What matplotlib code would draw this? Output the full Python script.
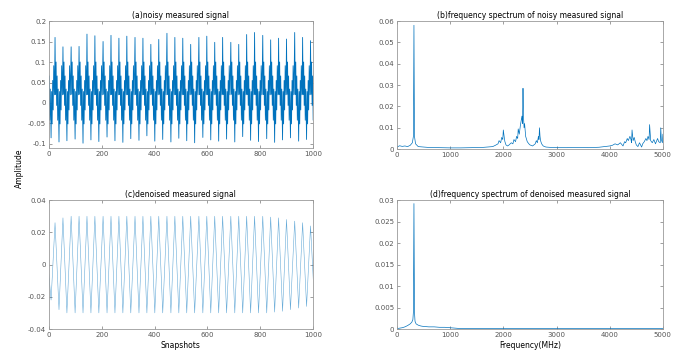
import matplotlib
matplotlib.use('Agg')
import matplotlib.pyplot as plt
import numpy as np

# snapshot index of each positive crest (one cycle ~30 snapshots) and the trough after it
peak_snap = [-7, 23, 53, 84, 114, 144, 174, 205, 235, 265, 295, 326, 356, 386, 416, 447, 477,
             507, 537, 568, 598, 628, 658, 689, 719, 749, 779, 810, 840, 870, 900, 931, 961, 991]
trough_snap = [8, 38, 68, 99, 129, 159, 189, 220, 250, 280, 310, 341, 371, 401, 431, 462, 492,
               522, 552, 583, 613, 643, 673, 704, 734, 764, 794, 825, 855, 885, 915, 946, 976, 1006]

# noisy signal: crest / trough height of every cycle
noisy_hi = [0.140, 0.160, 0.137, 0.137, 0.138, 0.168, 0.164, 0.150, 0.165, 0.158, 0.163, 0.160,
            0.158, 0.143, 0.155, 0.170, 0.160, 0.158, 0.143, 0.160, 0.163, 0.148, 0.160, 0.148,
            0.143, 0.167, 0.172, 0.165, 0.154, 0.158, 0.156, 0.172, 0.160, 0.152]
noisy_lo = [-0.085, -0.095, -0.092, -0.088, -0.098, -0.090, -0.094, -0.083, -0.092, -0.096,
            -0.087, -0.091, -0.080, -0.093, -0.089, -0.095, -0.086, -0.092, -0.097, -0.084,
            -0.090, -0.093, -0.088, -0.095, -0.082, -0.091, -0.094, -0.087, -0.096, -0.090,
            -0.085, -0.093, -0.089, -0.088]
# fast ripple riding on the carrier, between crest and trough (offset in snapshots, value)
ripple_off_a = [2, 4, 6, 8, 10, 12]
ripple_val_a = [0.021, 0.100, -0.006, 0.066, -0.042, 0.034]
ripple_off_b = [17, 19, 21, 23, 25, 28]
ripple_val_b = [0.028, -0.051, 0.055, -0.017, 0.091, 0.020]

# denoised signal: crest / trough height of every cycle
denoised_hi = [0.006, 0.026, 0.029, 0.030, 0.030, 0.030, 0.030, 0.030, 0.030, 0.030, 0.030,
               0.030, 0.030, 0.030, 0.030, 0.030, 0.030, 0.030, 0.030, 0.030, 0.030, 0.030,
               0.030, 0.030, 0.030, 0.030, 0.030, 0.030, 0.0295, 0.029, 0.028, 0.027, 0.026, 0.024]
denoised_lo = [-0.022, -0.028, -0.030, -0.030, -0.030, -0.030, -0.030, -0.030, -0.030, -0.030,
               -0.030, -0.030, -0.030, -0.030, -0.030, -0.030, -0.030, -0.030, -0.030, -0.030,
               -0.030, -0.030, -0.030, -0.030, -0.030, -0.030, -0.030, -0.030, -0.0295, -0.029,
               -0.028, -0.027, -0.026, -0.024]

# amplitude spectrum of the noisy signal
freq_noisy = [0, 20, 50, 100, 150, 200, 250, 290, 310, 320,
              330, 350, 400, 500, 600, 800, 1000, 1200, 1400, 1600,
              1700, 1800, 1850, 1900, 1920, 1950, 1970, 1990, 2000, 2020,
              2030, 2050, 2080, 2100, 2150, 2180, 2200, 2230, 2250, 2270,
              2280, 2300, 2320, 2340, 2350, 2360, 2365, 2370, 2380, 2390,
              2400, 2420, 2450, 2480, 2500, 2550, 2600, 2620, 2640, 2660,
              2670, 2680, 2690, 2700, 2720, 2750, 2800, 2900, 3000, 3200,
              3400, 3600, 3800, 3900, 4000, 4050, 4100, 4150, 4200, 4250,
              4280, 4300, 4330, 4350, 4380, 4400, 4410, 4420, 4440, 4460,
              4480, 4500, 4530, 4560, 4600, 4620, 4650, 4680, 4700, 4720,
              4740, 4750, 4770, 4800, 4830, 4860, 4900, 4920, 4950, 4960,
              4970, 4990, 5000]
amp_noisy = [0.0015, 0.0012, 0.0016, 0.0013, 0.0015, 0.0012, 0.0018, 0.0030, 0.0060, 0.0580,
             0.0060, 0.0025, 0.0012, 0.0010, 0.0008, 0.0007, 0.0006, 0.0006, 0.0007, 0.0008,
             0.0010, 0.0012, 0.0018, 0.0025, 0.0040, 0.0030, 0.0055, 0.0045, 0.0090, 0.0050,
             0.0035, 0.0020, 0.0015, 0.0018, 0.0030, 0.0025, 0.0045, 0.0035, 0.0060, 0.0050,
             0.0095, 0.0070, 0.0110, 0.0140, 0.0155, 0.0120, 0.0200, 0.0285, 0.0150, 0.0100,
             0.0120, 0.0060, 0.0035, 0.0025, 0.0020, 0.0015, 0.0025, 0.0040, 0.0030, 0.0060,
             0.0045, 0.0100, 0.0060, 0.0040, 0.0025, 0.0015, 0.0010, 0.0008, 0.0007, 0.0007,
             0.0008, 0.0007, 0.0009, 0.0012, 0.0015, 0.0018, 0.0025, 0.0020, 0.0030, 0.0015,
             0.0035, 0.0030, 0.0050, 0.0040, 0.0060, 0.0045, 0.0030, 0.0090, 0.0040, 0.0055,
             0.0035, 0.0020, 0.0012, 0.0030, 0.0010, 0.0025, 0.0035, 0.0050, 0.0040, 0.0060,
             0.0045, 0.0115, 0.0040, 0.0030, 0.0045, 0.0025, 0.0050, 0.0035, 0.0030, 0.0100,
             0.0045, 0.0030, 0.0070]

# amplitude spectrum of the denoised signal
freq_denoised = [0, 50, 100, 150, 200, 250, 280, 300, 310, 320,
                 330, 340, 360, 400, 450, 500, 600, 700, 800, 900,
                 1000, 1100, 1200, 1500, 2000, 2500, 3000, 3500, 4000, 4500,
                 5000]
amp_denoised = [0.0001, 0.0002, 0.0003, 0.0005, 0.0008, 0.0012, 0.0016, 0.0022, 0.0040, 0.0292,
                0.0040, 0.0018, 0.0012, 0.0009, 0.0007, 0.0006, 0.0005, 0.0005, 0.0004, 0.0004,
                0.0003, 0.0002, 0.0001, 0.0001, 0.0001, 0.0001, 0.0001, 0.0001, 0.0001, 0.0001,
                0.0001]

LINE = '#0072BD'
EDGE = '#9a9a9a'
FS = 5


def build_noisy():
    xs, ys = [], []
    for k in range(len(peak_snap)):
        p = peak_snap[k]
        xs.append(p); ys.append(noisy_hi[k])
        xs += [p + o for o in ripple_off_a]; ys += ripple_val_a
        xs.append(trough_snap[k]); ys.append(noisy_lo[k])
        xs += [p + o for o in ripple_off_b]; ys += ripple_val_b
    return np.array(xs), np.array(ys)


def build_denoised():
    xs, ys = [], []
    for k in range(len(peak_snap)):
        xs += [peak_snap[k], trough_snap[k]]
        ys += [denoised_hi[k], denoised_lo[k]]
    return np.array(xs), np.array(ys)


def style(ax):
    ax.tick_params(direction='in', top=True, right=True, length=2, width=0.4,
                   labelsize=FS, colors='#555555', pad=2)
    for s in ax.spines.values():
        s.set_color(EDGE)
        s.set_linewidth(0.6)


fig = plt.figure(figsize=(6.82, 3.56), dpi=100)
ax_a = fig.add_axes([0.0718, 0.584, 0.387, 0.357])
ax_b = fig.add_axes([0.582, 0.581, 0.390, 0.360])
ax_c = fig.add_axes([0.0718, 0.0758, 0.387, 0.362])
ax_d = fig.add_axes([0.582, 0.0758, 0.390, 0.362])

x, y = build_noisy()
ax_a.plot(x, y, color=LINE, lw=0.6)
ax_a.set_xlim(0, 1000)
ax_a.set_ylim(-0.11, 0.2)
ax_a.set_yticks([-0.1, -0.05, 0, 0.05, 0.1, 0.15, 0.2])
ax_a.set_yticklabels(['-0.1', '-0.05', '0', '0.05', '0.1', '0.15', '0.2'])
ax_a.set_xticks([0, 200, 400, 600, 800, 1000])
ax_a.set_title('(a)noisy measured signal', fontsize=5.5, pad=2)

ax_b.plot(freq_noisy, amp_noisy, color=LINE, lw=0.5)
ax_b.set_xlim(0, 5000)
ax_b.set_ylim(0, 0.06)
ax_b.set_yticks([0, 0.01, 0.02, 0.03, 0.04, 0.05, 0.06])
ax_b.set_yticklabels(['0', '0.01', '0.02', '0.03', '0.04', '0.05', '0.06'])
ax_b.set_xticks([0, 1000, 2000, 3000, 4000, 5000])
ax_b.set_title('(b)frequency spectrum of noisy measured signal', fontsize=5.5, pad=2)

x, y = build_denoised()
ax_c.plot(x, y, color=LINE, lw=0.4, alpha=0.6)
ax_c.set_xlim(0, 1000)
ax_c.set_ylim(-0.04, 0.04)
ax_c.set_yticks([-0.04, -0.02, 0, 0.02, 0.04])
ax_c.set_yticklabels(['-0.04', '-0.02', '0', '0.02', '0.04'])
ax_c.set_xticks([0, 200, 400, 600, 800, 1000])
ax_c.set_title('(c)denoised measured signal', fontsize=5.5, pad=2)
ax_c.set_xlabel('Snapshots', fontsize=5.5, labelpad=2)

ax_d.plot(freq_denoised, amp_denoised, color=LINE, lw=0.5)
ax_d.set_xlim(0, 5000)
ax_d.set_ylim(0, 0.03)
ax_d.set_yticks([0, 0.005, 0.01, 0.015, 0.02, 0.025, 0.03])
ax_d.set_yticklabels(['0', '0.005', '0.01', '0.015', '0.02', '0.025', '0.03'])
ax_d.set_xticks([0, 1000, 2000, 3000, 4000, 5000])
ax_d.set_title('(d)frequency spectrum of denoised measured signal', fontsize=5.5, pad=2)
ax_d.set_xlabel('Frequency(MHz)', fontsize=5.5, labelpad=2)

for ax in (ax_a, ax_b, ax_c, ax_d):
    style(ax)

fig.text(0.029, 0.528, 'Amplitude', rotation=90, fontsize=5.5, ha='center', va='center')

fig.savefig('out.png', dpi=100)
